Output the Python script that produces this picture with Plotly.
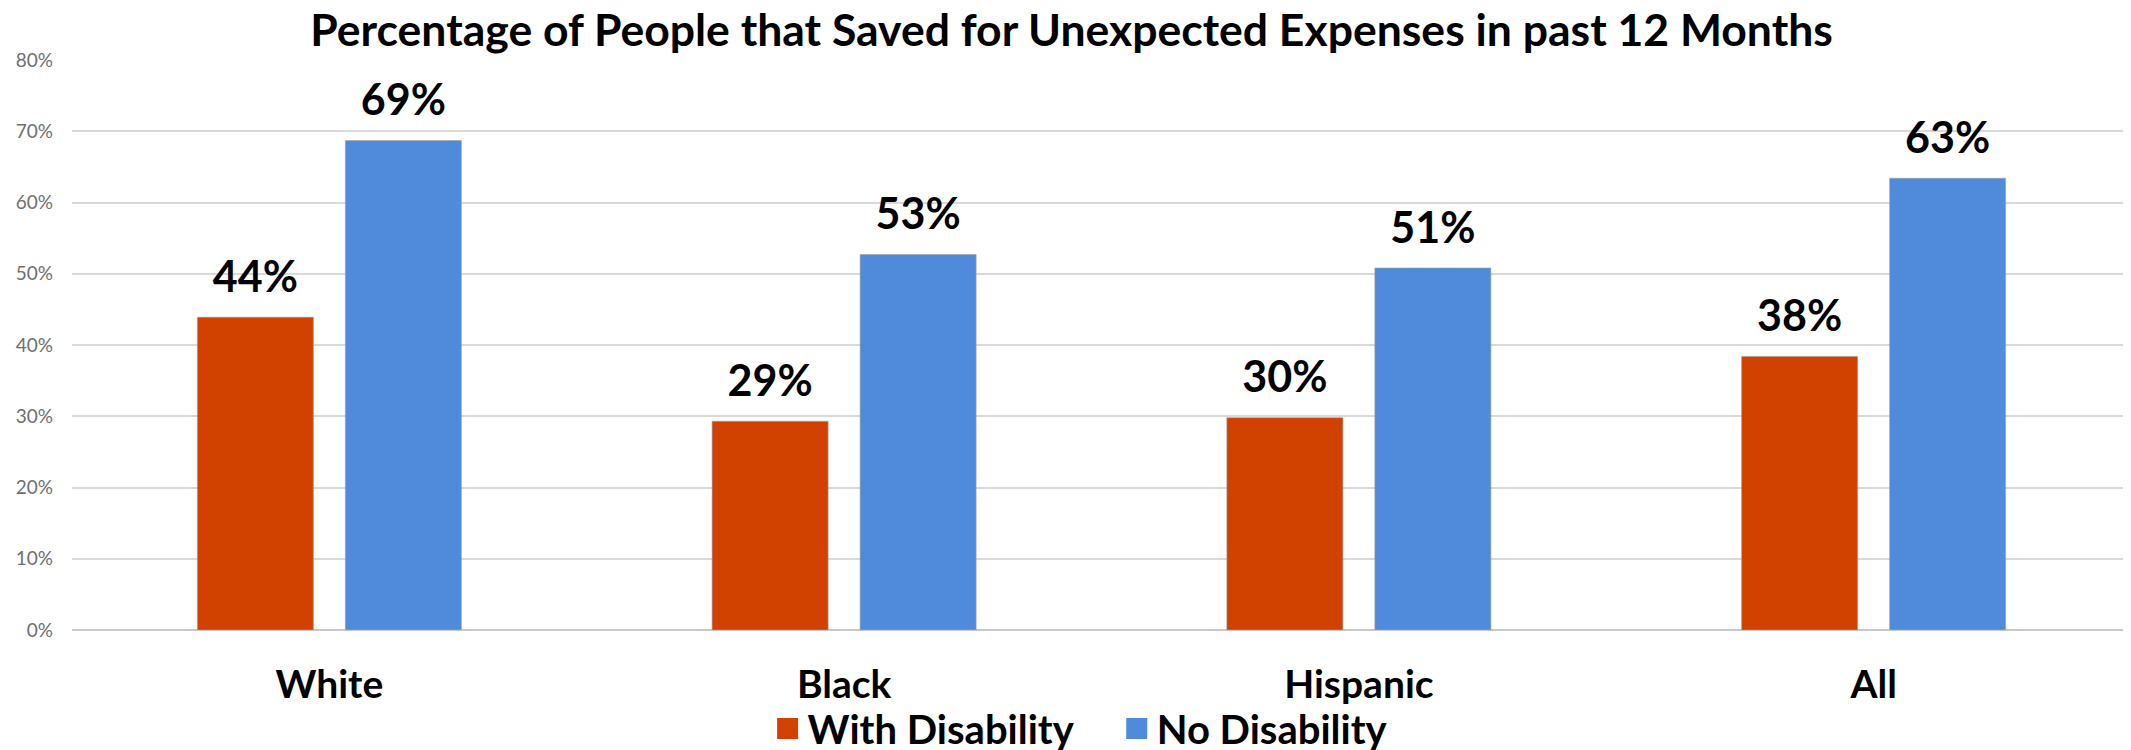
import plotly.graph_objects as go

categories = ["White", "Black", "Hispanic", "All"]
with_disability = [0.439, 0.293, 0.298, 0.384]
no_disability = [0.687, 0.527, 0.508, 0.634]
series_names = ["With Disability", "No Disability"]
colors = ["#D14100", "#508BDB"]
y_ticks = [0, 0.1, 0.2, 0.3, 0.4, 0.5, 0.6, 0.7, 0.8]
title = "Percentage of People that Saved for Unexpected Expenses in past 12 Months"

FONT = "Lato"
legend_pad = ["\u00a0\u00a0\u00a0\u00a0", ""]

fig = go.Figure()
for i, (name, vals, col) in enumerate(zip(series_names, [with_disability, no_disability], colors)):
    grp = "g%d" % i
    fig.add_trace(go.Bar(
        x=categories, y=vals, name=name, marker_color=col,
        marker_line=dict(color="rgba(160,160,160,0.6)", width=1),
        offsetgroup=grp, showlegend=False, hoverinfo="skip",
    ))
    fig.add_trace(go.Scatter(
        x=categories, y=vals, mode="markers+text", name=name,
        offsetgroup=grp,
        marker=dict(size=22, color="rgba(0,0,0,0)"),
        texttemplate="%{y:.0%}", textposition="top center",
        textfont=dict(family=FONT, size=43, color="black", weight="bold"),
        cliponaxis=False, showlegend=False,
    ))
    fig.add_trace(go.Scatter(
        x=[None], y=[None], mode="markers", name=name + legend_pad[i], offsetgroup=grp,
        marker=dict(symbol="square", size=16, color=col, line=dict(color=col, width=5)),
        showlegend=True,
    ))

fig.update_layout(
    width=2123, height=742,
    margin=dict(l=64, r=0, t=52, b=120, autoexpand=False),
    paper_bgcolor="white", plot_bgcolor="white",
    barmode="group", bargap=0.425, bargroupgap=0.216,
    scattermode="group", scattergap=0.425,
    title=dict(text=title, x=0.501, xref="container", xanchor="center", y=0.97, yanchor="middle",
               font=dict(family=FONT, size=44.5, color="black", weight="bold")),
    legend=dict(orientation="h", x=0.505, xref="container", xanchor="center",
                y=0.029, yref="container", yanchor="middle", bgcolor="rgba(0,0,0,0)",
                font=dict(family=FONT, size=40, color="black", weight="bold"),
                itemwidth=30, tracegroupgap=0),
    xaxis=dict(tickfont=dict(family=FONT, size=39, color="black", weight="bold"),
               showgrid=False, showline=False, ticks="", ticklabelstandoff=28,
               automargin=False),
    yaxis=dict(range=[0, 0.8], tickvals=y_ticks, tickformat=".0%",
               tickfont=dict(family=FONT, size=19, color="#6f6f6f"),
               showgrid=True, gridcolor="#d9d9d9", gridwidth=2,
               zeroline=True, zerolinecolor="#c8c8c8", zerolinewidth=2,
               showline=False, ticks="", ticklabelstandoff=18, automargin=False),
)

fig.write_html("out.html")
